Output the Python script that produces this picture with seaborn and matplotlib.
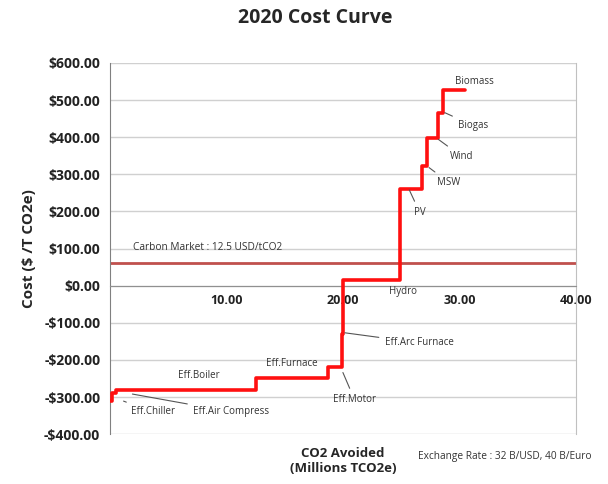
import matplotlib
matplotlib.use("Agg")
import matplotlib.pyplot as plt
import seaborn as sns
import pandas as pd
from matplotlib.ticker import FuncFormatter, FixedLocator

sns.set_style("white")
plt.rcParams['font.family'] = ['Open Sans', 'DejaVu Sans']

# ---- data ----
measures = ["Eff.Chiller", "Eff.Air Compress", "Eff.Boiler", "Eff.Furnace",
            "Eff.Motor", "Eff.Arc Furnace", "Hydro", "PV", "MSW", "Wind",
            "Biogas", "Biomass"]
start_x = [0.0, 0.15, 0.5, 12.55, 18.7, 19.9, 20.0, 24.9, 26.8, 27.2, 28.2, 28.6]
end_x = 30.5
costs = [-310, -290, -280, -248, -220, -130, 15, 260, 322, 398, 465, 527]
carbon_price = 62
x_ticks = [10, 20, 30, 40]
y_ticks = [-400, -300, -200, -100, 0, 100, 200, 300, 400, 500, 600]

# label positions (text x, text y, leader start x, leader start y or None)
labels = {
    "Biomass": (29.6, 549, None, None),
    "Biogas": (29.9, 431, 28.75, 466),
    "Wind": (29.2, 348, 28.2, 394),
    "MSW": (28.1, 278, 27.4, 318),
    "PV": (26.1, 197, 25.7, 258),
    "Hydro": (24.0, -16, None, None),
    "Eff.Arc Furnace": (23.6, -154, 20.17, -127),
    "Eff.Motor": (19.15, -307, 20.0, -234),
    "Eff.Furnace": (13.4, -210, None, None),
    "Eff.Boiler": (5.87, -243, None, None),
    "Eff.Chiller": (1.76, -340, 1.16, -311),
    "Eff.Air Compress": (7.15, -340, 1.92, -292),
}

df = pd.DataFrame({"x": start_x + [end_x], "cost": costs + [costs[-1]]})

fig = plt.figure(figsize=(6.08, 4.84), dpi=100)
ax = fig.add_axes([0.181, 0.103, 0.766, 0.767])

ax.axhline(carbon_price, color="#c0504d", lw=2, zorder=2)
sns.lineplot(data=df, x="x", y="cost", drawstyle="steps-post", sort=False,
             color="#ff1010", lw=2.6, ax=ax, zorder=3)

ax.set_xlim(0, 40)
ax.set_ylim(-400, 600)
ax.yaxis.set_major_locator(FixedLocator(y_ticks))
ax.xaxis.set_major_locator(FixedLocator(x_ticks))

def yfmt(v, pos):
    return f"${v:.2f}" if v >= 0 else f"-${-v:.2f}"
ax.yaxis.set_major_formatter(FuncFormatter(yfmt))
ax.xaxis.set_major_formatter(FuncFormatter(lambda v, p: f"{v:.2f}"))

ax.grid(axis="y", color="#d0d0d0", lw=1)
ax.spines['bottom'].set_position(('data', 0))
ax.spines['bottom'].set_color("#909090")
ax.spines['left'].set_color("#808080")
ax.spines['right'].set_color("#c0c0c0")
ax.spines['top'].set_visible(False)
ax.tick_params(axis="y", length=4, color="#808080", labelsize=10, pad=3)
ax.tick_params(axis="x", direction="in", length=4, color="#808080", labelsize=9, pad=6)
for t in ax.get_yticklabels() + ax.get_xticklabels():
    t.set_fontweight("bold")
    t.set_color("#222222")
ax.set_xlabel("")
ax.set_ylabel("Cost ($ /T CO2e)", fontsize=11, fontweight="bold", labelpad=6)

for name, (tx, ty, lx, ly) in labels.items():
    if lx is None:
        ax.text(tx, ty, name, fontsize=7, color="#333333", va="center", ha="left")
    else:
        ax.annotate(name, xy=(lx, ly), xytext=(tx, ty), fontsize=7, color="#333333",
                    va="center", ha="left",
                    arrowprops=dict(arrowstyle="-", color="#555555", lw=0.8,
                                    shrinkA=2, shrinkB=0))

ax.text(2.0, 102, "Carbon Market : 12.5 USD/tCO2", fontsize=7.3, color="#333333",
        va="center", ha="left")

fig.text(315/608, 1 - 18/484, "2020 Cost Curve", ha="center", va="center",
         fontsize=14, fontweight="bold")
fig.text(343/608, 1 - 461/484, "CO2 Avoided\n(Millions TCO2e)", ha="center",
         va="center", fontsize=9.5, fontweight="bold", linespacing=1.2)
fig.text(418/608, 1 - 457/484, "Exchange Rate : 32 B/USD, 40 B/Euro", ha="left",
         va="center", fontsize=7.3, color="#333333")

fig.savefig("out.png", dpi=100)
